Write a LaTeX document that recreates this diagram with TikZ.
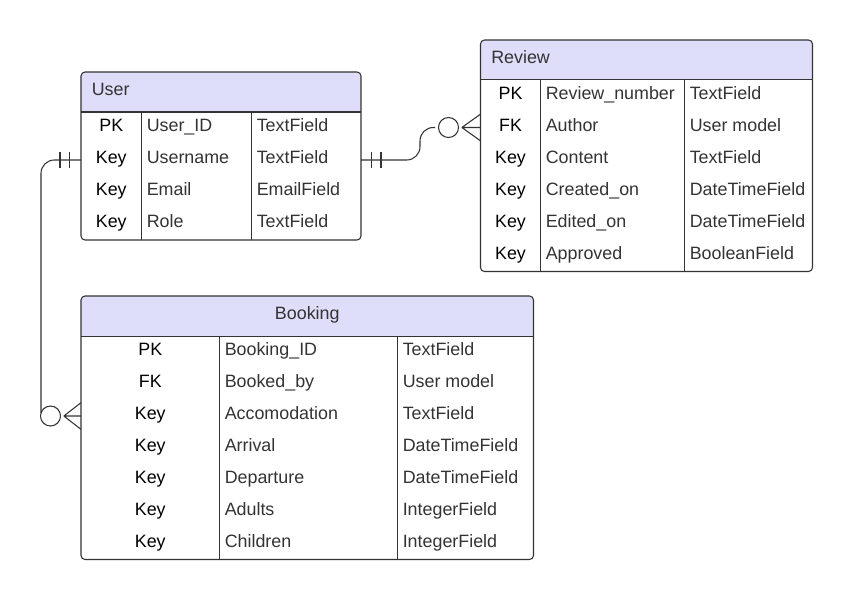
\documentclass[tikz,border=0pt]{standalone}
\usepackage{fontspec}
\setmainfont{Liberation Sans}
\definecolor{hdrC}{RGB}{222,222,250}
\definecolor{lineC}{RGB}{51,51,51}
\definecolor{txtC}{RGB}{51,51,51}
\newcommand{\ertable}[7]{%
  % #1 x1, #2 x2, #3 y1, #4 header bottom, #5 y2, #6 div1, #7 div2
  \begin{scope}
    \clip[rounded corners=3] (#1,#3) rectangle (#2,#5);
    \fill[hdrC] (#1,#3) rectangle (#2,#4);
  \end{scope}
  \draw[frame, rounded corners=3] (#1,#3) rectangle (#2,#5);
  \draw[frame] (#1,#4) -- (#2,#4);
  \draw[frame] (#6,#4) -- (#6,#5);
  \draw[frame] (#7,#4) -- (#7,#5);
}
\begin{document}
\begin{tikzpicture}[x=0.75pt,y=-0.75pt,
  frame/.style={draw=lineC, line width=0.8pt},
  conn/.style={draw=lineC, line width=0.8pt},
  hdrtxt/.style={anchor=base west, inner sep=0pt, text=txtC, font=\fontsize{13.4}{15}\selectfont},
  keyt/.style={anchor=base, inner sep=0pt, text=black, font=\fontsize{13.4}{15}\selectfont},
  fldt/.style={anchor=base west, inner sep=0pt, text=txtC, font=\fontsize{13.4}{15}\selectfont}]
\useasboundingbox (0,0) rectangle (853,600);

% ---------- User ----------
\ertable{81}{361}{72}{112}{240}{141.5}{251.5}
\node[hdrtxt] (userT) at (91.5,95.5) {User};
\node[keyt] (u1k) at (111.25,131.5) {PK};  \node[fldt] (u1n) at (146.5,131.5) {User\_ID};  \node[fldt] (u1t) at (256.5,131.5) {TextField};
\node[keyt] (u2k) at (111.25,163.5) {Key}; \node[fldt] (u2n) at (146.5,163.5) {Username}; \node[fldt] (u2t) at (256.5,163.5) {TextField};
\node[keyt] (u3k) at (111.25,195.5) {Key}; \node[fldt] (u3n) at (146.5,195.5) {Email};    \node[fldt] (u3t) at (256.5,195.5) {EmailField};
\node[keyt] (u4k) at (111.25,227.5) {Key}; \node[fldt] (u4n) at (146.5,227.5) {Role};     \node[fldt] (u4t) at (256.5,227.5) {TextField};

% ---------- Review ----------
\ertable{480.5}{812.5}{40}{79.5}{271.5}{540.5}{684.5}
\node[hdrtxt] (revT) at (491,63.25) {Review};
\node[keyt] (r1k) at (510.5,99)  {PK};  \node[fldt] (r1n) at (545.5,99)  {Review\_number}; \node[fldt] (r1t) at (689.5,99)  {TextField};
\node[keyt] (r2k) at (510.5,131) {FK};  \node[fldt] (r2n) at (545.5,131) {Author};         \node[fldt] (r2t) at (689.5,131) {User model};
\node[keyt] (r3k) at (510.5,163) {Key}; \node[fldt] (r3n) at (545.5,163) {Content};        \node[fldt] (r3t) at (689.5,163) {TextField};
\node[keyt] (r4k) at (510.5,195) {Key}; \node[fldt] (r4n) at (545.5,195) {Created\_on};    \node[fldt] (r4t) at (689.5,195) {DateTimeField};
\node[keyt] (r5k) at (510.5,227) {Key}; \node[fldt] (r5n) at (545.5,227) {Edited\_on};     \node[fldt] (r5t) at (689.5,227) {DateTimeField};
\node[keyt] (r6k) at (510.5,259) {Key}; \node[fldt] (r6n) at (545.5,259) {Approved};       \node[fldt] (r6t) at (689.5,259) {BooleanField};

% ---------- Booking ----------
\ertable{81}{533.5}{296}{336.5}{559.5}{219.5}{397.5}
\node[keyt, text=txtC] (bookT) at (307.25,319.75) {Booking};
\node[keyt] (b1k) at (150.25,355.9) {PK};  \node[fldt] (b1n) at (224.5,355.9) {Booking\_ID};   \node[fldt] (b1t) at (402.5,355.9) {TextField};
\node[keyt] (b2k) at (150.25,387.8) {FK};  \node[fldt] (b2n) at (224.5,387.8) {Booked\_by};    \node[fldt] (b2t) at (402.5,387.8) {User model};
\node[keyt] (b3k) at (150.25,419.7) {Key}; \node[fldt] (b3n) at (224.5,419.7) {Accomodation}; \node[fldt] (b3t) at (402.5,419.7) {TextField};
\node[keyt] (b4k) at (150.25,451.5) {Key}; \node[fldt] (b4n) at (224.5,451.5) {Arrival};      \node[fldt] (b4t) at (402.5,451.5) {DateTimeField};
\node[keyt] (b5k) at (150.25,483.4) {Key}; \node[fldt] (b5n) at (224.5,483.4) {Departure};    \node[fldt] (b5t) at (402.5,483.4) {DateTimeField};
\node[keyt] (b6k) at (150.25,515.3) {Key}; \node[fldt] (b6n) at (224.5,515.3) {Adults};       \node[fldt] (b6t) at (402.5,515.3) {IntegerField};
\node[keyt] (b7k) at (150.25,547.1) {Key}; \node[fldt] (b7n) at (224.5,547.1) {Children};     \node[fldt] (b7t) at (402.5,547.1) {IntegerField};

% ---------- connector endpoints ----------
\coordinate (userRight) at (361,160);
\coordinate (userLeft) at (81,160);
\coordinate (revLeft) at (480.5,127.5);
\coordinate (bookLeft) at (81,416);
\coordinate (revCirc) at (448.5,127.5);
\coordinate (bookCirc) at (50.5,416);

% User -> Review (one to many)
\draw[conn, rounded corners=10] (userRight) -- (420,160) -- (420,127.5) -- ([xshift=-10]revCirc);
\draw[conn] (371.7,152) -- (371.7,168) (381,152) -- (381,168);
\draw[conn] (revCirc) circle[radius=10];
\draw[conn] ([xshift=10]revCirc) -- (revLeft)
            ([xshift=10]revCirc) -- ([yshift=-10]revLeft)
            ([xshift=10]revCirc) -- ([yshift=10]revLeft);

% User -> Booking (one to many)
\draw[conn, rounded corners=10] (userLeft) -- (41,160) -- (41,412.9);
\draw[conn] (60,152) -- (60,168) (69.3,152) -- (69.3,168);
\draw[conn] (bookCirc) circle[radius=10];
\draw[conn] ([xshift=10]bookCirc) -- (bookLeft)
            ([xshift=10]bookCirc) -- ([yshift=-10]bookLeft)
            ([xshift=10]bookCirc) -- ([yshift=10]bookLeft);
\end{tikzpicture}
\end{document}
